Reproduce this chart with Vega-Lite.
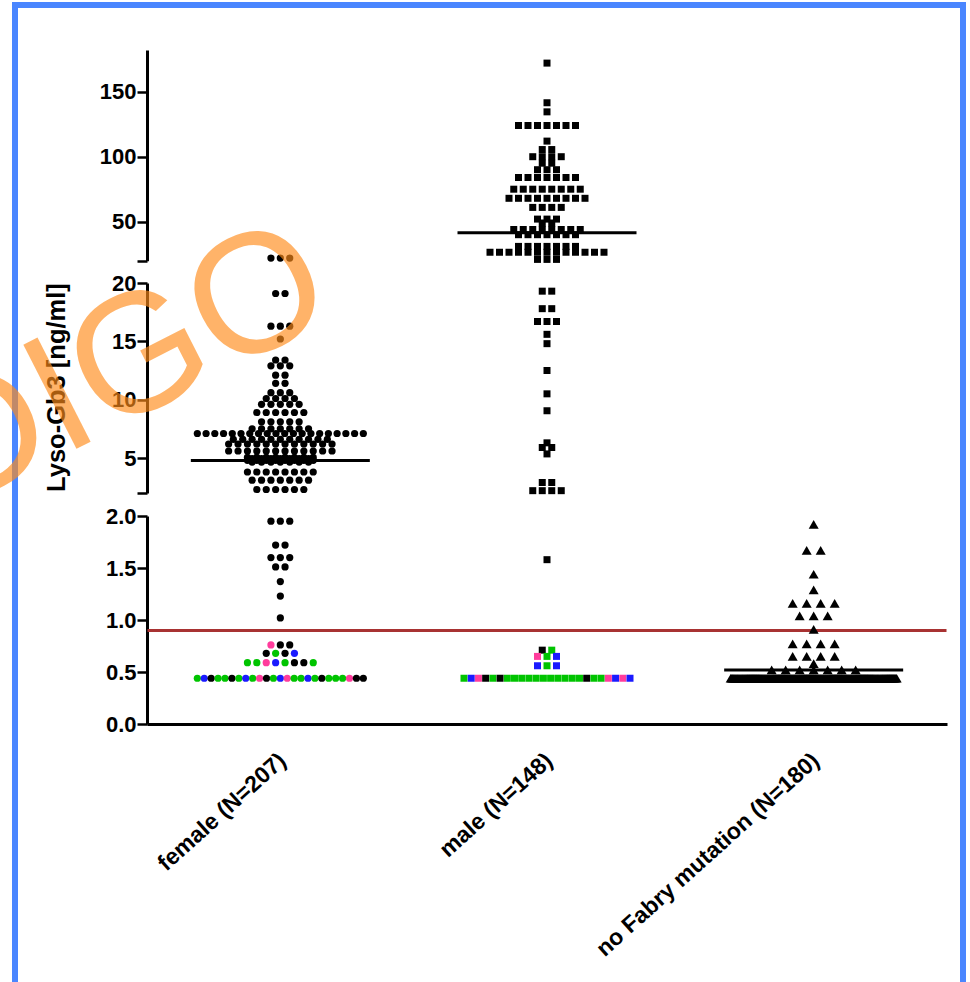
{
  "$schema": "https://vega.github.io/schema/vega-lite/v6.json",
  "width": 948,
  "height": 977,
  "autosize": "none",
  "padding": {"left": 15, "top": 5, "right": 7, "bottom": 0},
  "background": "white",
  "config": {
    "view": {"stroke": "#4a86ff", "strokeWidth": 6, "strokeDash": [1925, 948, 1000]},
    "font": "Liberation Sans",
    "axis": {"grid": false, "labelColor": "black", "titleColor": "black", "domainColor": "black", "tickColor": "black"}
  },
  "datasets": {
    "female": [
      {"v":22,"c":"k"},{"v":22,"c":"k"},{"v":22,"c":"k"},
      {"v":19.1,"c":"k"},{"v":19.1,"c":"k"},
      {"v":16.3,"c":"k"},{"v":16.3,"c":"k"},{"v":16.3,"c":"k"},
      {"v":15.2,"c":"k"},
      {"v":13.4,"c":"k"},{"v":13.4,"c":"k"},
      {"v":12.9,"c":"k"},{"v":12.9,"c":"k"},{"v":12.9,"c":"k"},
      {"v":12.1,"c":"k"},{"v":12.1,"c":"k"},
      {"v":11.4,"c":"k"},{"v":11.4,"c":"k"},
      {"v":10.6,"c":"k"},{"v":10.6,"c":"k"},{"v":10.6,"c":"k"},
      {"v":10.1,"c":"k"},{"v":10.1,"c":"k"},{"v":10.1,"c":"k"},{"v":10.1,"c":"k"},
      {"v":9.6,"c":"k"},{"v":9.6,"c":"k"},{"v":9.6,"c":"k"},{"v":9.6,"c":"k"},{"v":9.6,"c":"k"},
      {"v":8.9,"c":"k"},{"v":8.9,"c":"k"},{"v":8.9,"c":"k"},{"v":8.9,"c":"k"},{"v":8.9,"c":"k"},{"v":8.9,"c":"k"},
      {"v":8.1,"c":"k"},{"v":8.1,"c":"k"},{"v":8.1,"c":"k"},{"v":8.1,"c":"k"},{"v":8.1,"c":"k"},
      {"v":7.5,"c":"k"},{"v":7.5,"c":"k"},{"v":7.5,"c":"k"},{"v":7.5,"c":"k"},{"v":7.5,"c":"k"},{"v":7.5,"c":"k"},{"v":7.5,"c":"k"},
      {"v":7.1,"c":"k"},{"v":7.1,"c":"k"},{"v":7.1,"c":"k"},{"v":7.1,"c":"k"},{"v":7.1,"c":"k"},
      {"v":7.1,"c":"k"},{"v":7.1,"c":"k"},{"v":7.1,"c":"k"},{"v":7.1,"c":"k"},{"v":7.1,"c":"k"},
      {"v":7.1,"c":"k"},{"v":7.1,"c":"k"},{"v":7.1,"c":"k"},{"v":7.1,"c":"k"},{"v":7.1,"c":"k"},
      {"v":7.1,"c":"k"},{"v":7.1,"c":"k"},{"v":7.1,"c":"k"},{"v":7.1,"c":"k"},{"v":7.1,"c":"k"},
      {"v":6.6,"c":"k"},{"v":6.6,"c":"k"},{"v":6.6,"c":"k"},{"v":6.6,"c":"k"},{"v":6.6,"c":"k"},{"v":6.6,"c":"k"},
      {"v":6.6,"c":"k"},{"v":6.6,"c":"k"},{"v":6.6,"c":"k"},{"v":6.6,"c":"k"},{"v":6.6,"c":"k"},
      {"v":6.2,"c":"k"},{"v":6.2,"c":"k"},{"v":6.2,"c":"k"},{"v":6.2,"c":"k"},{"v":6.2,"c":"k"},{"v":6.2,"c":"k"},
      {"v":6.2,"c":"k"},{"v":6.2,"c":"k"},{"v":6.2,"c":"k"},{"v":6.2,"c":"k"},{"v":6.2,"c":"k"},{"v":6.2,"c":"k"},
      {"v":5.6,"c":"k"},{"v":5.6,"c":"k"},{"v":5.6,"c":"k"},{"v":5.6,"c":"k"},{"v":5.6,"c":"k"},{"v":5.6,"c":"k"},
      {"v":5.6,"c":"k"},{"v":5.6,"c":"k"},{"v":5.6,"c":"k"},{"v":5.6,"c":"k"},{"v":5.6,"c":"k"},{"v":5.6,"c":"k"},
      {"v":5.05,"c":"k"},{"v":5.05,"c":"k"},{"v":5.05,"c":"k"},{"v":5.05,"c":"k"},{"v":5.05,"c":"k"},{"v":5.05,"c":"k"},{"v":5.05,"c":"k"},{"v":5.05,"c":"k"},
      {"v":4.95,"c":"k"},{"v":4.95,"c":"k"},{"v":4.95,"c":"k"},{"v":4.95,"c":"k"},{"v":4.95,"c":"k"},{"v":4.95,"c":"k"},{"v":4.95,"c":"k"},
      {"v":4.8,"c":"k"},{"v":4.8,"c":"k"},{"v":4.8,"c":"k"},{"v":4.8,"c":"k"},{"v":4.8,"c":"k"},{"v":4.8,"c":"k"},{"v":4.8,"c":"k"},{"v":4.8,"c":"k"},
      {"v":4.65,"c":"k"},{"v":4.65,"c":"k"},{"v":4.65,"c":"k"},{"v":4.65,"c":"k"},{"v":4.65,"c":"k"},{"v":4.65,"c":"k"},{"v":4.65,"c":"k"},
      {"v":3.8,"c":"k"},{"v":3.8,"c":"k"},{"v":3.8,"c":"k"},{"v":3.8,"c":"k"},{"v":3.8,"c":"k"},{"v":3.8,"c":"k"},{"v":3.8,"c":"k"},{"v":3.8,"c":"k"},
      {"v":3.1,"c":"k"},{"v":3.1,"c":"k"},{"v":3.1,"c":"k"},{"v":3.1,"c":"k"},{"v":3.1,"c":"k"},{"v":3.1,"c":"k"},{"v":3.1,"c":"k"},
      {"v":2.3,"c":"k"},{"v":2.3,"c":"k"},{"v":2.3,"c":"k"},{"v":2.3,"c":"k"},{"v":2.3,"c":"k"},{"v":2.3,"c":"k"},
      {"v":1.95,"c":"k"},{"v":1.95,"c":"k"},{"v":1.95,"c":"k"},
      {"v":1.72,"c":"k"},{"v":1.72,"c":"k"},
      {"v":1.6,"c":"k"},{"v":1.6,"c":"k"},{"v":1.6,"c":"k"},
      {"v":1.51,"c":"k"},{"v":1.51,"c":"k"},
      {"v":1.37,"c":"k"},{"v":1.23,"c":"k"},{"v":1.02,"c":"k"},
      {"v":0.76,"c":"p"},{"v":0.76,"c":"k"},{"v":0.76,"c":"k"},
      {"v":0.68,"c":"k"},{"v":0.68,"c":"g"},{"v":0.68,"c":"k"},{"v":0.68,"c":"b"},
      {"v":0.59,"c":"g"},{"v":0.59,"c":"g"},{"v":0.59,"c":"p"},{"v":0.59,"c":"b"},{"v":0.59,"c":"g"},{"v":0.59,"c":"k"},{"v":0.59,"c":"k"},{"v":0.59,"c":"g"},
      {"v":0.44,"c":"g"},{"v":0.44,"c":"b"},{"v":0.44,"c":"k"},{"v":0.44,"c":"g"},{"v":0.44,"c":"g"},
      {"v":0.44,"c":"k"},{"v":0.44,"c":"g"},{"v":0.44,"c":"b"},{"v":0.44,"c":"g"},{"v":0.44,"c":"p"},
      {"v":0.44,"c":"k"},{"v":0.44,"c":"g"},{"v":0.44,"c":"b"},{"v":0.44,"c":"p"},{"v":0.44,"c":"g"},
      {"v":0.44,"c":"g"},{"v":0.44,"c":"b"},{"v":0.44,"c":"g"},{"v":0.44,"c":"k"},{"v":0.44,"c":"g"},
      {"v":0.44,"c":"g"},{"v":0.44,"c":"g"},{"v":0.44,"c":"p"},{"v":0.44,"c":"k"},{"v":0.44,"c":"k"}
    ],
    "male": [
      {"v":172,"c":"k"},{"v":141.5,"c":"k"},{"v":134.5,"c":"k"},
      {"v":124,"c":"k"},{"v":124,"c":"k"},{"v":124,"c":"k"},{"v":124,"c":"k"},{"v":124,"c":"k"},{"v":124,"c":"k"},{"v":124,"c":"k"},
      {"v":112,"c":"k"},
      {"v":105.5,"c":"k"},{"v":105.5,"c":"k"},
      {"v":100,"c":"k"},{"v":100,"c":"k"},{"v":100,"c":"k"},{"v":100,"c":"k"},
      {"v":95,"c":"k"},{"v":95,"c":"k"},
      {"v":90,"c":"k"},{"v":90,"c":"k"},{"v":90,"c":"k"},
      {"v":84,"c":"k"},{"v":84,"c":"k"},{"v":84,"c":"k"},{"v":84,"c":"k"},{"v":84,"c":"k"},{"v":84,"c":"k"},{"v":84,"c":"k"},
      {"v":75,"c":"k"},{"v":75,"c":"k"},{"v":75,"c":"k"},{"v":75,"c":"k"},{"v":75,"c":"k"},{"v":75,"c":"k"},{"v":75,"c":"k"},{"v":75,"c":"k"},
      {"v":68,"c":"k"},{"v":68,"c":"k"},{"v":68,"c":"k"},{"v":68,"c":"k"},{"v":68,"c":"k"},{"v":68,"c":"k"},{"v":68,"c":"k"},{"v":68,"c":"k"},{"v":68,"c":"k"},
      {"v":61,"c":"k"},{"v":61,"c":"k"},{"v":61,"c":"k"},{"v":61,"c":"k"},
      {"v":52,"c":"k"},{"v":52,"c":"k"},{"v":52,"c":"k"},
      {"v":49,"c":"k"},{"v":49,"c":"k"},
      {"v":44,"c":"k"},{"v":44,"c":"k"},{"v":44,"c":"k"},{"v":44,"c":"k"},{"v":44,"c":"k"},{"v":44,"c":"k"},{"v":44,"c":"k"},{"v":44,"c":"k"},
      {"v":40,"c":"k"},{"v":40,"c":"k"},{"v":40,"c":"k"},{"v":40,"c":"k"},{"v":40,"c":"k"},{"v":40,"c":"k"},{"v":40,"c":"k"},
      {"v":31,"c":"k"},{"v":31,"c":"k"},{"v":31,"c":"k"},{"v":31,"c":"k"},{"v":31,"c":"k"},{"v":31,"c":"k"},{"v":31,"c":"k"},
      {"v":26.5,"c":"k"},{"v":26.5,"c":"k"},{"v":26.5,"c":"k"},{"v":26.5,"c":"k"},{"v":26.5,"c":"k"},{"v":26.5,"c":"k"},{"v":26.5,"c":"k"},
      {"v":26.5,"c":"k"},{"v":26.5,"c":"k"},{"v":26.5,"c":"k"},{"v":26.5,"c":"k"},{"v":26.5,"c":"k"},{"v":26.5,"c":"k"},
      {"v":21,"c":"k"},{"v":21,"c":"k"},{"v":21,"c":"k"},
      {"v":19.3,"c":"k"},{"v":19.3,"c":"k"},
      {"v":17.8,"c":"k"},{"v":17.8,"c":"k"},
      {"v":16.7,"c":"k"},{"v":16.7,"c":"k"},{"v":16.7,"c":"k"},
      {"v":15.6,"c":"k"},{"v":14.8,"c":"k"},{"v":12.5,"c":"k"},{"v":10.5,"c":"k"},{"v":9.05,"c":"k"},
      {"v":6.3,"c":"k"},{"v":5.9,"c":"k"},{"v":5.9,"c":"k"},{"v":5.35,"c":"k"},
      {"v":2.9,"c":"k"},{"v":2.9,"c":"k"},
      {"v":2.2,"c":"k"},{"v":2.2,"c":"k"},{"v":2.2,"c":"k"},{"v":2.2,"c":"k"},
      {"v":1.58,"c":"k"},
      {"v":0.71,"c":"k"},{"v":0.71,"c":"g"},
      {"v":0.65,"c":"p"},{"v":0.65,"c":"g"},{"v":0.65,"c":"b"},
      {"v":0.56,"c":"b"},{"v":0.56,"c":"g"},{"v":0.56,"c":"b"},
      {"v":0.44,"c":"g"},{"v":0.44,"c":"b"},{"v":0.44,"c":"p"},{"v":0.44,"c":"k"},{"v":0.44,"c":"g"},{"v":0.44,"c":"k"},
      {"v":0.44,"c":"g"},{"v":0.44,"c":"g"},{"v":0.44,"c":"g"},{"v":0.44,"c":"g"},{"v":0.44,"c":"g"},{"v":0.44,"c":"g"},
      {"v":0.44,"c":"g"},{"v":0.44,"c":"g"},{"v":0.44,"c":"g"},{"v":0.44,"c":"g"},{"v":0.44,"c":"g"},{"v":0.44,"c":"k"},
      {"v":0.44,"c":"g"},{"v":0.44,"c":"g"},{"v":0.44,"c":"p"},{"v":0.44,"c":"b"},{"v":0.44,"c":"p"},{"v":0.44,"c":"b"}
    ],
    "nofabry": [
      {"v":1.92},{"v":1.67},{"v":1.67},{"v":1.44},{"v":1.29},
      {"v":1.16},{"v":1.16},{"v":1.16},{"v":1.16},
      {"v":1.04},{"v":1.04},{"v":1.04},
      {"v":0.91},
      {"v":0.77},{"v":0.77},{"v":0.77},{"v":0.77},
      {"v":0.65},{"v":0.65},{"v":0.65},{"v":0.65},
      {"v":0.58},
      {"v":0.52},{"v":0.52},{"v":0.52},{"v":0.52},{"v":0.52},{"v":0.52},{"v":0.52},
      {"v":0.44},{"v":0.44},{"v":0.44},{"v":0.44},{"v":0.44},{"v":0.44},{"v":0.44},{"v":0.44},{"v":0.44},{"v":0.44},
      {"v":0.44},{"v":0.44},{"v":0.44},{"v":0.44},{"v":0.44},{"v":0.44},{"v":0.44},{"v":0.44},{"v":0.44},{"v":0.44},
      {"v":0.44},{"v":0.44},{"v":0.44},{"v":0.44},{"v":0.44},{"v":0.44},{"v":0.44},{"v":0.44},{"v":0.44},{"v":0.44},
      {"v":0.44},{"v":0.44},{"v":0.44},{"v":0.44},{"v":0.44},{"v":0.44},{"v":0.44},{"v":0.44},{"v":0.44},{"v":0.44},
      {"v":0.44},{"v":0.44},{"v":0.44},{"v":0.44},{"v":0.44},{"v":0.44},{"v":0.44},{"v":0.44},{"v":0.44},{"v":0.44},
      {"v":0.44},{"v":0.44},{"v":0.44},{"v":0.44},{"v":0.44},{"v":0.44},{"v":0.44},{"v":0.44},{"v":0.44},{"v":0.44},
      {"v":0.44},{"v":0.44},{"v":0.44},{"v":0.44},{"v":0.44},{"v":0.44},{"v":0.44},{"v":0.44},{"v":0.44},{"v":0.44},
      {"v":0.44},{"v":0.44},{"v":0.44},{"v":0.44},{"v":0.44},{"v":0.44},{"v":0.44},{"v":0.44},{"v":0.44},{"v":0.44},
      {"v":0.44},{"v":0.44},{"v":0.44},{"v":0.44},{"v":0.44},{"v":0.44},{"v":0.44},{"v":0.44},{"v":0.44},{"v":0.44},
      {"v":0.44},{"v":0.44},{"v":0.44},{"v":0.44},{"v":0.44},{"v":0.44},{"v":0.44},{"v":0.44},{"v":0.44},{"v":0.44},
      {"v":0.44},{"v":0.44},{"v":0.44},{"v":0.44},{"v":0.44},{"v":0.44},{"v":0.44},{"v":0.44},{"v":0.44},{"v":0.44},
      {"v":0.44},{"v":0.44},{"v":0.44},{"v":0.44},{"v":0.44},{"v":0.44},{"v":0.44},{"v":0.44},{"v":0.44},{"v":0.44},
      {"v":0.44},{"v":0.44},{"v":0.44},{"v":0.44},{"v":0.44},{"v":0.44},{"v":0.44},{"v":0.44},{"v":0.44},{"v":0.44},
      {"v":0.44},{"v":0.44},{"v":0.44},{"v":0.44},{"v":0.44},{"v":0.44},{"v":0.44},{"v":0.44},{"v":0.44},{"v":0.44},
      {"v":0.44},{"v":0.44},{"v":0.44},{"v":0.44},{"v":0.44},{"v":0.44},{"v":0.44},{"v":0.44},{"v":0.44},{"v":0.44},
      {"v":0.44},{"v":0.44},{"v":0.44},{"v":0.44},{"v":0.44},{"v":0.44},{"v":0.44},{"v":0.44},{"v":0.44},{"v":0.44},
      {"v":0.44}
    ],
    "centre": [
      {"g":"female (N=207)","m":4.78},
      {"g":"male (N=148)","m":41.5},
      {"g":"no Fabry mutation (N=180)","m":0.52}
    ],
    "cutoff": [
      {"g":"male (N=148)","limit":0.9}
    ]
  },
  "layer": [
    {
      "data": {"name": "cutoff"},
      "mark": {"type": "tick", "color": "#a83232", "thickness": 3, "size": 799, "opacity": 1},
      "encoding": {
        "x": {
          "field": "g", "type": "nominal",
          "scale": {"type": "band", "domain": ["female (N=207)", "male (N=148)", "no Fabry mutation (N=180)"], "range": [132, 932], "paddingInner": 0, "paddingOuter": 0},
          "axis": {"title": null, "ticks": false, "tickSize": 0, "domainWidth": 3, "labelAngle": -42, "labelFontSize": 23, "labelFontWeight": "bold", "labelPadding": 25, "labelOffset": -5, "offset": -258, "labelOverlap": false, "labelLimit": 0}
        },
        "y": {
          "field": "limit", "type": "quantitative",
          "scale": {"type": "linear", "domain": [0, 2, 2.0001, 20, 20.0001, 182], "range": [719, 511, 488, 278, 255.7, 45.1], "zero": false, "nice": false},
          "axis": {
            "title": "Lyso-Gb3 [ng/ml]",
            "values": [0, 0.5, 1, 1.5, 2, 2.0001, 5, 10, 15, 20, 20.0001, 50, 100, 150],
            "labelExpr": "(datum.value > 2 && datum.value < 2.001) || (datum.value > 20 && datum.value < 20.001) ? '' : (datum.value <= 2 ? format(datum.value, '.1f') : format(datum.value, 'd'))",
            "offset": -132,
            "domainWidth": 3,
            "domainCap": "butt",
            "domainDash": [208, 23, 210, 22.3, 211],
            "tickSize": 10,
            "tickWidth": 2.5,
            "labelFontSize": 22,
            "labelFontWeight": "bold",
            "labelPadding": 1,
            "labelOverlap": false,
            "labelFlush": false,
            "titleFontSize": 25.5,
            "titleFontWeight": "bold",
            "titlePadding": 30,
            "encode": {
              "ticks": {
                "x": {"condition": {"test": "datum.value == 2 || datum.value == 20 || (datum.value > 2 && datum.value < 2.001) || (datum.value > 20 && datum.value < 20.001)", "value": 7}, "value": 0},
                "x2": {"condition": {"test": "(datum.value > 2 && datum.value < 2.001) || (datum.value > 20 && datum.value < 20.001)", "value": -5}, "value": -10}
              }
            }
          }
        }
      }
    },
    {
      "data": {"name": "female"},
      "transform": [
        {"window": [{"op": "row_number", "as": "rn"}, {"op": "count", "as": "n"}], "groupby": ["v"], "frame": [null, null]},
        {"calculate": "(datum.rn - (datum.n + 1) / 2) * min(9.4, 166 / max(datum.n - 1, 1))", "as": "off"}
      ],
      "mark": {"type": "point", "shape": "circle", "filled": true, "size": 52, "opacity": 1, "strokeWidth": 0},
      "encoding": {
        "x": {"datum": "female (N=207)", "type": "nominal", "scale": {"type": "band", "domain": ["female (N=207)", "male (N=148)", "no Fabry mutation (N=180)"], "range": [132, 932], "paddingInner": 0, "paddingOuter": 0}},
        "xOffset": {"field": "off", "type": "quantitative", "scale": {"domain": [-133.335, 133.335], "range": [0, 266.67]}},
        "y": {"field": "v", "type": "quantitative", "scale": {"type": "linear", "domain": [0, 2, 2.0001, 20, 20.0001, 182], "range": [719, 511, 488, 278, 255.7, 45.1], "zero": false, "nice": false}},
        "color": {"field": "c", "type": "nominal", "scale": {"domain": ["k", "g", "b", "p"], "range": ["#000000", "#00c400", "#1a1aff", "#ff3c9c"]}, "legend": null}
      }
    },
    {
      "data": {"name": "male"},
      "transform": [
        {"window": [{"op": "row_number", "as": "rn"}, {"op": "count", "as": "n"}], "groupby": ["v"], "frame": [null, null]},
        {"calculate": "(datum.rn - (datum.n + 1) / 2) * min(9.5, 166 / max(datum.n - 1, 1))", "as": "off"}
      ],
      "mark": {"type": "point", "shape": "square", "filled": true, "size": 49, "opacity": 1, "strokeWidth": 0},
      "encoding": {
        "x": {"datum": "male (N=148)", "type": "nominal", "scale": {"type": "band", "domain": ["female (N=207)", "male (N=148)", "no Fabry mutation (N=180)"], "range": [132, 932], "paddingInner": 0, "paddingOuter": 0}},
        "xOffset": {"field": "off", "type": "quantitative", "scale": {"domain": [-133.335, 133.335], "range": [0, 266.67]}},
        "y": {"field": "v", "type": "quantitative", "scale": {"type": "linear", "domain": [0, 2, 2.0001, 20, 20.0001, 182], "range": [719, 511, 488, 278, 255.7, 45.1], "zero": false, "nice": false}},
        "color": {"field": "c", "type": "nominal", "scale": {"domain": ["k", "g", "b", "p"], "range": ["#000000", "#00c400", "#1a1aff", "#ff3c9c"]}, "legend": null}
      }
    },
    {
      "data": {"name": "nofabry"},
      "transform": [
        {"window": [{"op": "row_number", "as": "rn"}, {"op": "count", "as": "n"}], "groupby": ["v"], "frame": [null, null]},
        {"calculate": "(datum.rn - (datum.n + 1) / 2) * min(14, 166 / max(datum.n - 1, 1))", "as": "off"}
      ],
      "mark": {"type": "point", "shape": "triangle-up", "filled": true, "size": 100, "opacity": 1, "strokeWidth": 0, "color": "#000000"},
      "encoding": {
        "x": {"datum": "no Fabry mutation (N=180)", "type": "nominal", "scale": {"type": "band", "domain": ["female (N=207)", "male (N=148)", "no Fabry mutation (N=180)"], "range": [132, 932], "paddingInner": 0, "paddingOuter": 0}},
        "xOffset": {"field": "off", "type": "quantitative", "scale": {"domain": [-133.335, 133.335], "range": [0, 266.67]}},
        "y": {"field": "v", "type": "quantitative", "scale": {"type": "linear", "domain": [0, 2, 2.0001, 20, 20.0001, 182], "range": [719, 511, 488, 278, 255.7, 45.1], "zero": false, "nice": false}}
      }
    },
    {
      "data": {"name": "centre"},
      "mark": {"type": "tick", "color": "#000000", "thickness": 3, "size": 179, "opacity": 1},
      "encoding": {
        "x": {"field": "g", "type": "nominal", "scale": {"type": "band", "domain": ["female (N=207)", "male (N=148)", "no Fabry mutation (N=180)"], "range": [132, 932], "paddingInner": 0, "paddingOuter": 0}},
        "y": {"field": "m", "type": "quantitative", "scale": {"type": "linear", "domain": [0, 2, 2.0001, 20, 20.0001, 182], "range": [719, 511, 488, 278, 255.7, 45.1], "zero": false, "nice": false}}
      }
    },
    {
      "data": {"values": [{}]},
      "mark": {"type": "text", "text": "DIGO", "font": "Liberation Sans", "fontSize": 170, "angle": 333, "align": "center", "baseline": "middle", "color": "#ff8c1a", "opacity": 0.65},
      "encoding": {
        "x": {"datum": "female (N=207)", "type": "nominal", "bandPosition": -0.088, "scale": {"type": "band", "domain": ["female (N=207)", "male (N=148)", "no Fabry mutation (N=180)"], "range": [132, 932], "paddingInner": 0, "paddingOuter": 0}},
        "y": {"datum": 12.75, "type": "quantitative", "scale": {"type": "linear", "domain": [0, 2, 2.0001, 20, 20.0001, 182], "range": [719, 511, 488, 278, 255.7, 45.1], "zero": false, "nice": false}}
      }
    }
  ]
}
